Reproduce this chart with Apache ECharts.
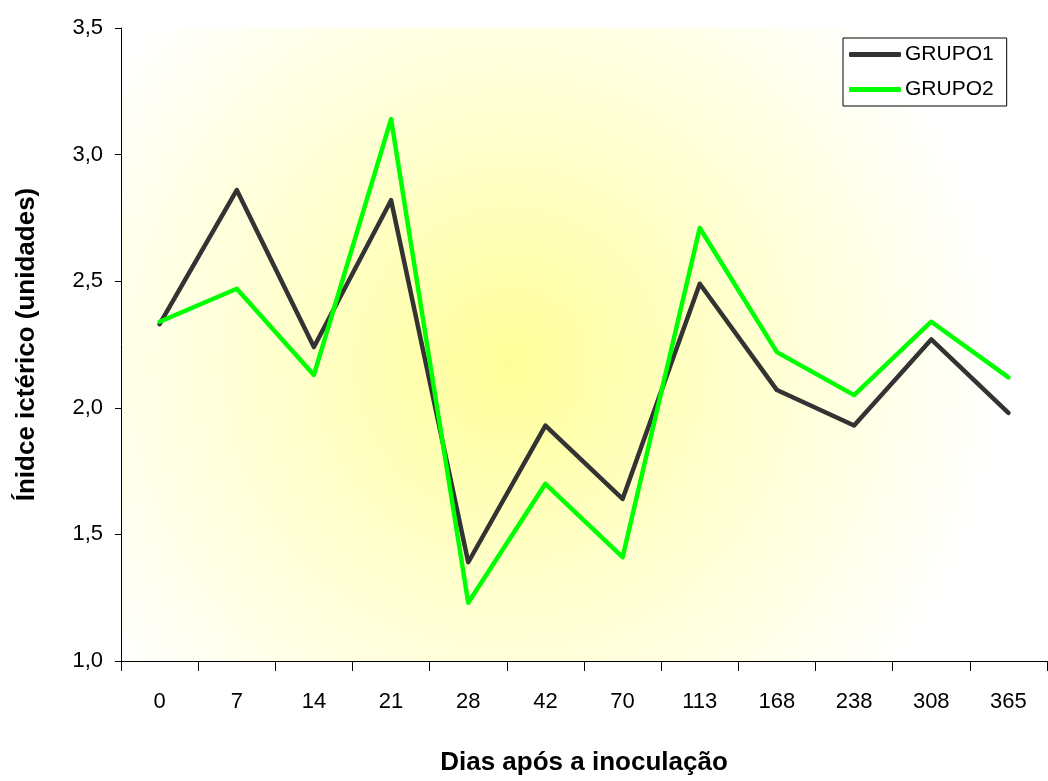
<!DOCTYPE html>
<html>
<head>
<meta charset="utf-8">
<script src="https://cdn.jsdelivr.net/npm/echarts@6/dist/echarts.min.js"></script>
<style>html,body{margin:0;padding:0;background:#fff}#c{width:1048px;height:781px}</style>
</head>
<body>
<div id="c"></div>
<script>
const categories = ['0','7','14','21','28','42','70','113','168','238','308','365'];
const grupo1 = [2.33, 2.86, 2.24, 2.82, 1.39, 1.93, 1.64, 2.49, 2.07, 1.93, 2.27, 1.98];
const grupo2 = [2.34, 2.47, 2.13, 3.14, 1.23, 1.70, 1.41, 2.71, 2.22, 2.05, 2.34, 2.12];
const yTicks = { min: 1.0, max: 3.5, interval: 0.5 };

const FONT = 'Liberation Sans, Arial, sans-serif';
const chart = echarts.init(document.getElementById('c'), null, { renderer: 'canvas' });
chart.setOption({
  animation: false,
  backgroundColor: '#ffffff',
  grid: {
    left: 121, right: 1, top: 28, bottom: 113,
    show: true, borderWidth: 0,
    backgroundColor: {
      type: 'radial', x: 0.42, y: 0.53, r: 0.78,
      colorStops: [
        { offset: 0, color: '#ffff99' },
        { offset: 0.45, color: '#ffffcc' },
        { offset: 1, color: '#ffffff' }
      ]
    }
  },
  legend: {
    orient: 'vertical',
    left: 843, top: 38,
    padding: [6, 13, 6, 6],
    itemGap: 14,
    itemWidth: 52, itemHeight: 5,
    backgroundColor: '#ffffff',
    borderColor: '#000000', borderWidth: 1,
    borderRadius: 0,
    icon: 'roundRect',
    textStyle: { fontFamily: FONT, fontSize: 21, color: '#000', padding: [0, 0, 0, -1] },
    data: ['GRUPO1', 'GRUPO2']
  },
  xAxis: {
    type: 'category',
    data: categories,
    boundaryGap: true,
    name: 'Dias após a inoculação',
    nameLocation: 'middle',
    nameGap: 89,
    nameTextStyle: { fontFamily: FONT, fontSize: 26, fontWeight: 'bold', color: '#000' },
    axisLine: { lineStyle: { color: '#000', width: 1 } },
    axisTick: { show: true, alignWithLabel: false, length: 10, lineStyle: { color: '#000' } },
    axisLabel: { fontFamily: FONT, fontSize: 22, color: '#000', margin: 30, interval: 0 },
    splitLine: { show: false }
  },
  yAxis: {
    type: 'value',
    min: yTicks.min, max: yTicks.max, interval: yTicks.interval,
    name: 'Ínidce ictérico (unidades)',
    nameLocation: 'middle',
    nameGap: 81,
    nameRotate: 90,
    nameTextStyle: { fontFamily: FONT, fontSize: 26, fontWeight: 'bold', color: '#000' },
    axisLine: { show: true, lineStyle: { color: '#000', width: 1 } },
    axisTick: { show: true, length: 6, lineStyle: { color: '#000' } },
    axisLabel: {
      fontFamily: FONT, fontSize: 22, color: '#000', margin: 18,
      formatter: v => v.toFixed(1).replace('.', ',')
    },
    splitLine: { show: false }
  },
  series: [
    {
      name: 'GRUPO1', type: 'line', data: grupo1,
      symbol: 'none', color: '#333333',
      lineStyle: { color: '#333333', width: 4.5, cap: 'round', join: 'round' }
    },
    {
      name: 'GRUPO2', type: 'line', data: grupo2,
      symbol: 'none', color: '#00ff00',
      lineStyle: { color: '#00ff00', width: 4.5, cap: 'round', join: 'round' }
    }
  ]
});
</script>
</body>
</html>
